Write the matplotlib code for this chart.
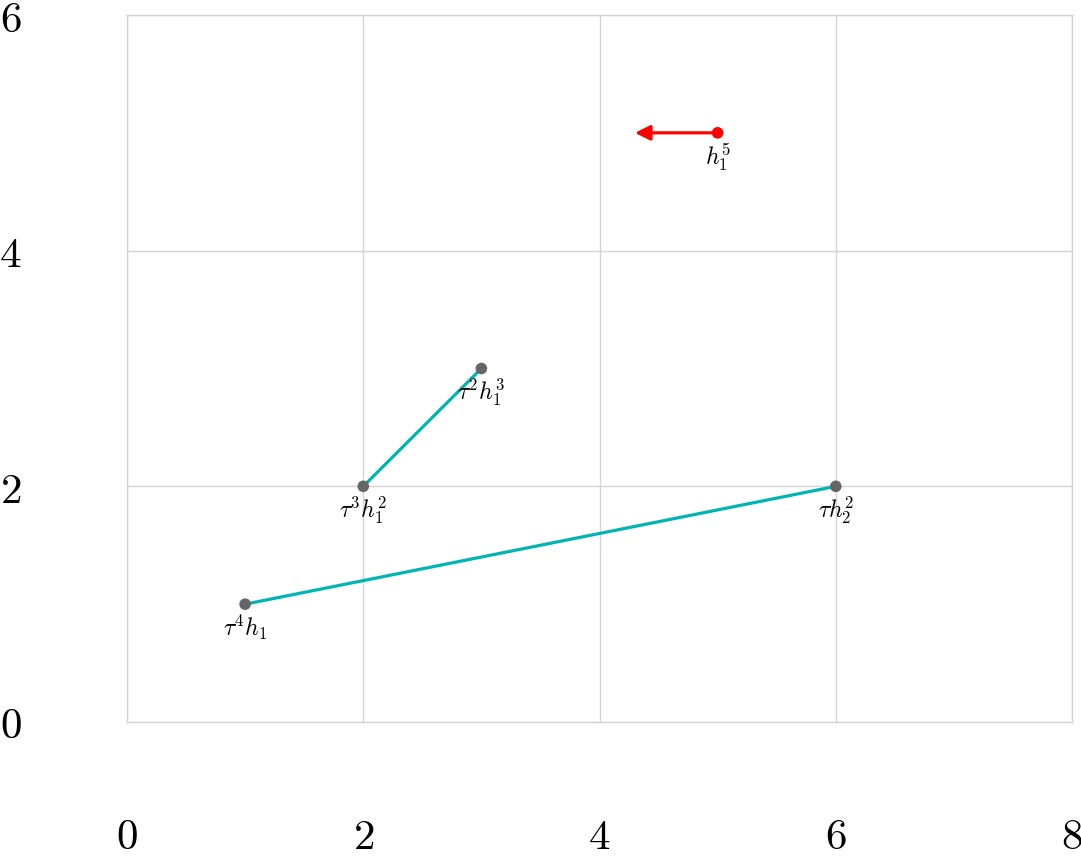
import matplotlib
matplotlib.use("Agg")
import matplotlib.pyplot as plt

plt.rcParams["mathtext.fontset"] = "cm"

# generators: position and label
gen_x = [1, 2, 3, 6, 5]
gen_y = [1, 2, 3, 2, 5]
gen_labels = [r"$\tau^4h_1$", r"$\tau^3h_1^2$", r"$\tau^2h_1^3$",
              r"$\tau h_2^2$", r"$h_1^5$"]
gen_colors = ["#666666", "#666666", "#666666", "#666666", "#ff0000"]

# products (index pairs into the generator lists)
edges = [(0, 3), (1, 2)]

# tower arrow: start index and end x
arrow_from = 4
arrow_to_x = 4.3

xticks = [0, 2, 4, 6, 8]
yticks = [0, 2, 4, 6]

fig = plt.figure(figsize=(10.81, 8.56), dpi=100)
ax = fig.add_axes([127 / 1081, 1 - 722 / 856, 945 / 1081, 707 / 856])

grid_col = "#d3d3d3"
for sp in ax.spines.values():
    sp.set_color(grid_col)
    sp.set_linewidth(1)
ax.grid(True, color=grid_col, linewidth=1)
ax.set_axisbelow(True)

for a, b in edges:
    ax.plot([gen_x[a], gen_x[b]], [gen_y[a], gen_y[b]],
            color="#00b4b4", linewidth=2.3, zorder=2, solid_capstyle="butt")

ax.annotate("", xy=(arrow_to_x, gen_y[arrow_from]),
            xytext=(gen_x[arrow_from], gen_y[arrow_from]),
            arrowprops=dict(arrowstyle="-|>,head_length=0.9,head_width=0.45",
                            color="#ff0000", lw=2.3, shrinkA=0, shrinkB=0),
            zorder=3)

ax.scatter(gen_x, gen_y, s=70, c=gen_colors, zorder=4, linewidths=0)

for x, y, lab in zip(gen_x, gen_y, gen_labels):
    ax.annotate(lab, (x, y), xytext=(0, -6), textcoords="offset points",
                ha="center", va="top", fontsize=17, zorder=5)

ax.set_xlim(0, 8)
ax.set_ylim(0, 6)
ax.set_xticks(xticks)
ax.set_yticks(yticks)
ax.set_xticklabels([f"${t}$" for t in xticks])
ax.set_yticklabels([f"${t}$" for t in yticks])
ax.tick_params(axis="both", length=0, labelsize=31)
ax.tick_params(axis="x", pad=68)
ax.tick_params(axis="y", pad=76)

fig.savefig("out.png", dpi=100)
